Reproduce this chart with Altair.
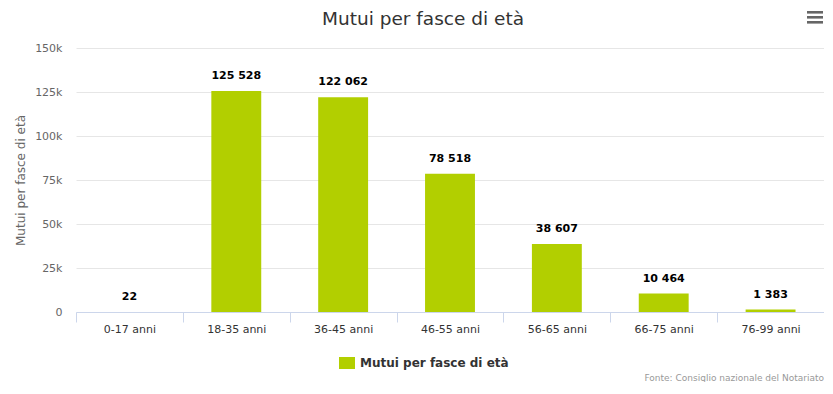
import altair as alt
import pandas as pd

categories = ["0-17 anni", "18-35 anni", "36-45 anni", "46-55 anni",
              "56-65 anni", "66-75 anni", "76-99 anni"]
values = [22, 125528, 122062, 78518, 38607, 10464, 1383]
series_name = "Mutui per fasce di età"
y_ticks = [0, 25000, 50000, 75000, 100000, 125000, 150000]
credit = "Fonte: Consiglio nazionale del Notariato"

FONT = "DejaVu Sans"
BAR = "#b2cf00"

df = pd.DataFrame({"fascia": categories, "mutui": values})
df["label"] = [f"{v:,}".replace(",", " ") for v in values]
df["serie"] = series_name

x = alt.X(
    "fascia:N", sort=categories, title=None,
    scale=alt.Scale(paddingInner=0, paddingOuter=0),
    axis=alt.Axis(tickBand="extent", labelAngle=0, labelFont=FONT, labelFontSize=11,
                  labelColor="#333333", labelPadding=1, tickSize=10, tickColor="#ccd6eb",
                  domainColor="#ccd6eb", grid=False),
)
y = alt.Y(
    "mutui:Q", scale=alt.Scale(domain=[0, 150000], nice=False),
    axis=alt.Axis(values=y_ticks,
                  labelExpr="datum.value == 0 ? '0' : format(datum.value / 1000, 'd') + 'k'",
                  domain=False, ticks=False,
                  gridColor="#e6e6e6", labelPadding=14, labelColor="#666666",
                  labelFont=FONT, labelFontSize=11,
                  title=series_name, titleColor="#666666", titleFont=FONT,
                  titleFontSize=12, titleFontWeight="normal",
                  titleX=-56, titleY=132, titleBaseline="middle"),
)

bars = alt.Chart(df).mark_bar(width=alt.RelativeBandSize(0.467)).encode(
    x=x, y=y,
    color=alt.Color("serie:N", scale=alt.Scale(range=[BAR]),
                    legend=alt.Legend(title=None, orient="none", legendX=263, legendY=307,
                                      symbolType="M-1,-0.75H1V0.75H-1Z", symbolSize=256,
                                      symbolStrokeWidth=0, labelFont=FONT, labelFontSize=12,
                                      labelFontWeight="bold", labelColor="#333333",
                                      labelOffset=5, padding=0)),
)

labels = alt.Chart(df).mark_text(dy=-15, font=FONT, fontSize=11, fontWeight="bold",
                                 color="#000000", baseline="middle").encode(
    x=alt.X("fascia:N", sort=categories), y=alt.Y("mutui:Q"), text="label:N"
)

one = pd.DataFrame({"k": [0]})

title = alt.Chart(pd.DataFrame({"t": [series_name]})).mark_text(
    align="center", baseline="middle", font=FONT, fontSize=18.5, color="#333333"
).encode(x=alt.value(347), y=alt.value(-29), text="t:N")

credits = alt.Chart(pd.DataFrame({"t": [credit]})).mark_text(
    align="right", baseline="alphabetic", font=FONT, fontSize=9, color="#999999"
).encode(x=alt.value(748), y=alt.value(333), text="t:N")

menu = [
    alt.Chart(one).mark_rule(color="#666666", strokeWidth=2.6).encode(
        x=alt.value(731), x2=alt.value(747), y=alt.value(yy))
    for yy in (-35.7, -30.7, -25.7)
]

chart = alt.layer(bars, labels, title, credits, *menu).properties(
    width=748, height=264,
    autosize=alt.AutoSizeParams(type="none"),
    padding={"left": 68, "top": 40, "right": 0, "bottom": 70},
).configure_view(stroke=None)

chart.save("out.html", embed_options={"renderer": "svg", "actions": False})
